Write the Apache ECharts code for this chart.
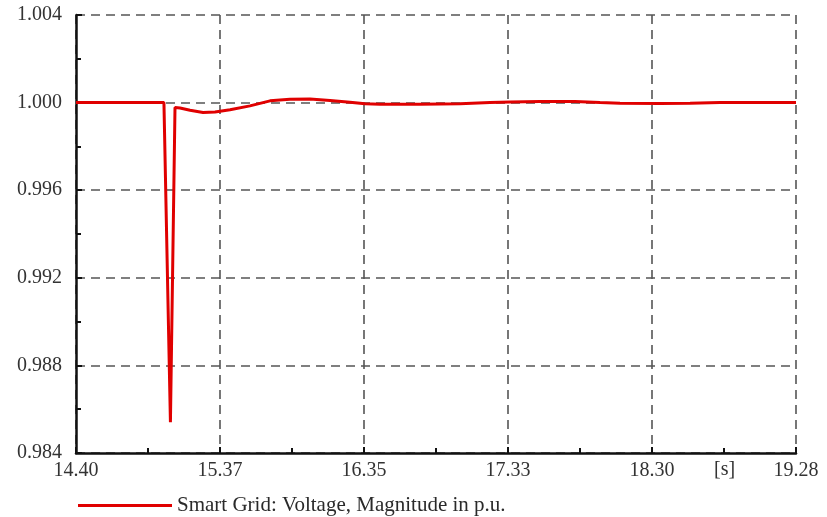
<!DOCTYPE html>
<html>
<head>
<meta charset="utf-8">
<script src="https://cdn.jsdelivr.net/npm/echarts@6/dist/echarts.min.js"></script>
<style>html,body{margin:0;padding:0;background:#fff}#c{width:827px;height:517px}</style>
</head>
<body>
<div id="c"></div>
<script>
// Data
const seriesName = 'Smart Grid: Voltage, Magnitude in p.u.';
const timeS = [14.40, 14.996, 15.003, 15.040, 15.071, 15.105, 15.173, 15.261, 15.342, 15.444, 15.579, 15.715, 15.850, 15.986, 16.122, 16.257, 16.359, 16.461, 16.732, 17.003, 17.206, 17.342, 17.545, 17.782, 17.952, 18.087, 18.358, 18.562, 18.765, 19.28];
const voltage = [1.0000, 1.0000, 1.0000, 0.98540, 0.99978, 0.99975, 0.99965, 0.99955, 0.99957, 0.99967, 0.99985, 1.00008, 1.00015, 1.00016, 1.00010, 1.00002, 0.99995, 0.99993, 0.99993, 0.99995, 1.00000, 1.00003, 1.00005, 1.00005, 1.00000, 0.99997, 0.99996, 0.99997, 1.00000, 1.00000];
const xTickLabels = ['14.40', '15.37', '16.35', '17.33', '18.30', '19.28'];
const xStart = 14.40, xEnd = 19.28, xStep = 0.976;
const yMin = 0.984, yMax = 1.004, yStep = 0.004;

const chart = echarts.init(document.getElementById('c'), null, {renderer: 'canvas'});
const serif = 'Liberation Serif';
const pts = timeS.map((t, i) => [+(t - xStart).toFixed(4), voltage[i]]);
chart.setOption({
  animation: false,
  backgroundColor: '#ffffff',
  grid: {left: 76, right: 31, top: 15, bottom: 64},
  legend: {
    data: [seriesName], left: 73, top: 490, icon: 'rect', itemWidth: 94, itemHeight: 3, itemGap: 10,
    textStyle: {fontFamily: serif, fontSize: 21, color: '#2a2a2a'}
  },
  xAxis: {
    type: 'value', min: 0, max: +(xEnd - xStart).toFixed(3), interval: xStep,
    axisLine: {show: true, lineStyle: {color: '#111', width: 2.5}},
    axisTick: {show: true, inside: true, length: 6, lineStyle: {color: '#111', width: 2}},
    minorTick: {show: true, splitNumber: 2, length: 5, lineStyle: {color: '#111', width: 2}},
    axisLabel: {
      margin: 8, fontFamily: serif, fontSize: 20, color: '#333',
      formatter: (v) => { const i = Math.round(v / xStep); return xTickLabels[i] || ''; }
    },
    splitLine: {show: true, lineStyle: {color: '#555', width: 1.6, type: [9, 6]}}
  },
  yAxis: {
    type: 'value', min: yMin, max: yMax, interval: yStep,
    axisLine: {show: true, lineStyle: {color: '#111', width: 2.5}},
    axisTick: {show: true, inside: true, length: 6, lineStyle: {color: '#111', width: 2}},
    minorTick: {show: true, splitNumber: 2, length: 5, lineStyle: {color: '#111', width: 2}},
    axisLabel: {margin: 14, fontFamily: serif, fontSize: 20, color: '#333', formatter: (v) => v.toFixed(3)},
    splitLine: {show: true, lineStyle: {color: '#555', width: 1.6, type: [9, 6]}}
  },
  graphic: [{
    type: 'text', left: 714, top: 460,
    style: {text: '[s]', fontFamily: serif, fontSize: 20, fill: '#333'}
  }],
  series: [{
    name: seriesName, type: 'line', data: pts, showSymbol: false,
    lineStyle: {color: '#e00000', width: 3}, itemStyle: {color: '#e00000'}
  }]
});
</script>
</body>
</html>
